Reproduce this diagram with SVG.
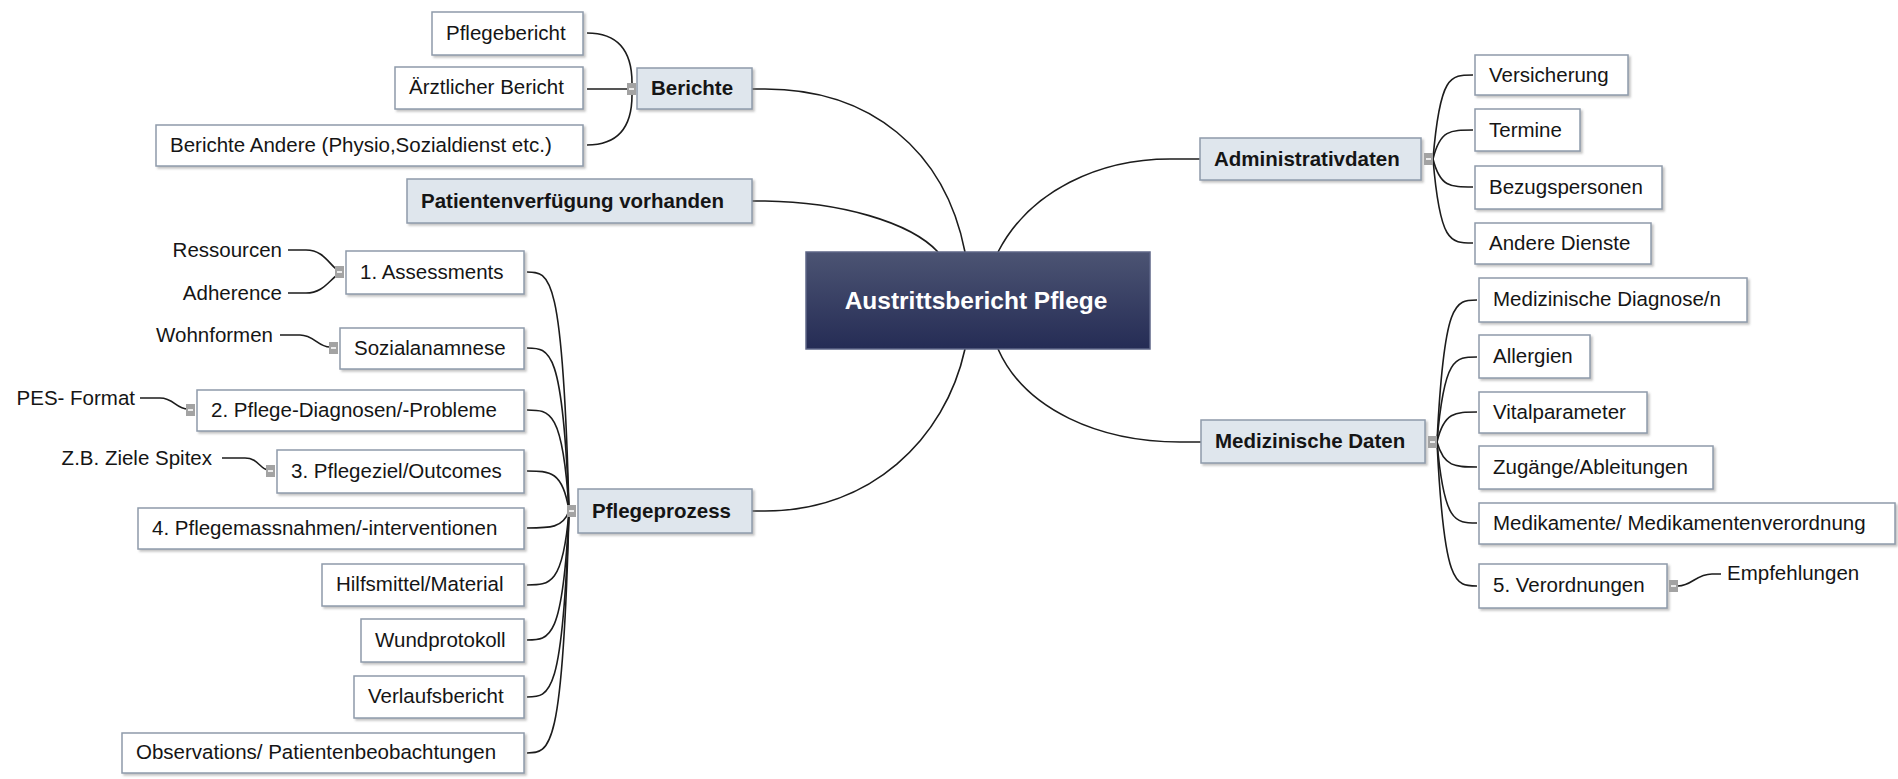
<svg xmlns="http://www.w3.org/2000/svg" width="1898" height="779" viewBox="0 0 1898 779">
<defs>
<linearGradient id="cg" x1="0" y1="0" x2="0" y2="1">
<stop offset="0" stop-color="#4c5473"/>
<stop offset="1" stop-color="#252c55"/>
</linearGradient>
<filter id="sh" x="-5%" y="-20%" width="110%" height="150%">
<feDropShadow dx="2" dy="2" stdDeviation="1" flood-color="#888" flood-opacity="0.5"/>
</filter>
</defs>
<style>
.box{fill:#fff;stroke:#8e9bab;stroke-width:1.5;filter:url(#sh)}
.main{fill:#dfe6ed;stroke:#8e9bab;stroke-width:1.5;filter:url(#sh)}
.t{font-family:"Liberation Sans",Arial,sans-serif;font-size:20.5px;fill:#151515}
.tb{font-family:"Liberation Sans",Arial,sans-serif;font-size:20.5px;font-weight:bold;fill:#151515}
.tc{font-family:"Liberation Sans",Arial,sans-serif;font-size:24.5px;font-weight:bold;fill:#fff}
.c{fill:none;stroke:#1c1c1c;stroke-width:1.6}
.hub{fill:#a3a3a3}
.hl{stroke:#ececec;stroke-width:2}
</style>
<rect width="1898" height="779" fill="#fff"/>
<g id="connectors">
<path class="c" d="M752,89 L765,89 C870,89 945,150 965,252"/>
<path class="c" d="M752,201 L765,201 C840,202 910,222 938,252"/>
<path class="c" d="M752,511 L765,511 C870,511 945,440 965,349"/>
<path class="c" d="M998,252 C1030,190 1100,159 1170,159 L1200,159"/>
<path class="c" d="M998,349 C1025,410 1100,442 1180,442 L1201,442"/>
<path class="c" d="M632,83 C632,50 618,33 587,33"/>
<path class="c" d="M627,89 L587,89"/>
<path class="c" d="M632,95 C632,128 618,145 587,145"/>
<path class="c" d="M569,511 C563,272 550,272 527,272"/>
<path class="c" d="M569,511 C563,348 550,348 527,348"/>
<path class="c" d="M569,511 C563,410 550,410 527,410"/>
<path class="c" d="M569,511 C563,471 550,471 527,471"/>
<path class="c" d="M569,511 C563,528 550,528 527,528"/>
<path class="c" d="M569,511 C563,585 550,585 527,585"/>
<path class="c" d="M569,511 C563,640 550,640 527,640"/>
<path class="c" d="M569,511 C563,697 550,697 527,697"/>
<path class="c" d="M569,511 C563,753 550,753 527,753"/>
<path class="c" d="M1433,159 C1440,75 1450,75 1473,75"/>
<path class="c" d="M1433,159 C1440,130 1450,130 1473,130"/>
<path class="c" d="M1433,159 C1440,187 1450,187 1473,187"/>
<path class="c" d="M1433,159 C1440,243 1450,243 1473,243"/>
<path class="c" d="M1437,442 C1444,300 1455,300 1477,300"/>
<path class="c" d="M1437,442 C1444,357 1455,357 1477,357"/>
<path class="c" d="M1437,442 C1444,412 1455,412 1477,412"/>
<path class="c" d="M1437,442 C1444,467 1455,467 1477,467"/>
<path class="c" d="M1437,442 C1444,523 1455,523 1477,523"/>
<path class="c" d="M1437,442 C1444,586 1455,586 1477,586"/>
<path class="c" d="M288,250 L306,250 C322,250 328,262 336,269"/>
<path class="c" d="M288,293 L306,293 C322,293 328,282 336,276"/>
<path class="c" d="M280,335 L300,335 C314,335 318,347 330,347"/>
<path class="c" d="M140,398 L160,398 C174,398 176,409 188,409"/>
<path class="c" d="M222,458 L245,458 C258,458 260,469 268,470"/>
<path class="c" d="M1678,586 C1692,586 1696,574 1712,574 L1721,574"/>
</g>
<g id="n-center">
<rect x="806" y="252" width="344" height="97" fill="url(#cg)" stroke="#5d6587" stroke-width="1.5"/>
<text class="tc" x="976" y="309" text-anchor="middle">Austrittsbericht Pflege</text>
</g>
<g id="n-berichte">
<rect class="main" x="637" y="68" width="115" height="41"/>
<text class="tb" x="651" y="95">Berichte</text>
<rect class="hub" x="627" y="83" width="9" height="12"/><line class="hl" x1="629" y1="89" x2="634" y2="89"/>
</g>
<g id="n-pflegebericht"><rect class="box" x="432" y="12" width="151" height="43"/><text class="t" x="446" y="40">Pflegebericht</text></g>
<g id="n-aerztlich"><rect class="box" x="395" y="67" width="188" height="42"/><text class="t" x="409" y="94">Ärztlicher Bericht</text></g>
<g id="n-andere"><rect class="box" x="156" y="125" width="427" height="41"/><text class="t" x="170" y="152">Berichte Andere (Physio,Sozialdienst etc.)</text></g>
<g id="n-patverf"><rect class="main" x="407" y="179" width="345" height="44"/><text class="tb" x="421" y="208">Patientenverfügung vorhanden</text></g>
<g id="n-pflegeprozess">
<rect class="main" x="578" y="489" width="174" height="44"/>
<text class="tb" x="592" y="518">Pflegeprozess</text>
<rect class="hub" x="567" y="505" width="9" height="12"/><line class="hl" x1="569" y1="511" x2="574" y2="511"/>
</g>
<g id="n-assess">
<rect class="box" x="346" y="251" width="178" height="43"/><text class="t" x="360" y="279">1. Assessments</text>
<rect class="hub" x="335" y="266" width="9" height="12"/><line class="hl" x1="337" y1="272" x2="342" y2="272"/>
</g>
<g id="n-ressourcen"><text class="t" x="282" y="257" text-anchor="end">Ressourcen</text></g>
<g id="n-adherence"><text class="t" x="282" y="300" text-anchor="end">Adherence</text></g>
<g id="n-sozial">
<rect class="box" x="340" y="328" width="184" height="41"/><text class="t" x="354" y="355">Sozialanamnese</text>
<rect class="hub" x="329" y="342" width="9" height="12"/><line class="hl" x1="331" y1="348" x2="336" y2="348"/>
</g>
<g id="n-wohnformen"><text class="t" x="273" y="342" text-anchor="end">Wohnformen</text></g>
<g id="n-diag">
<rect class="box" x="197" y="390" width="327" height="41"/><text class="t" x="211" y="417">2. Pflege-Diagnosen/-Probleme</text>
<rect class="hub" x="186" y="404" width="9" height="12"/><line class="hl" x1="188" y1="410" x2="193" y2="410"/>
</g>
<g id="n-pes"><text class="t" x="135" y="405" text-anchor="end">PES- Format</text></g>
<g id="n-ziel">
<rect class="box" x="277" y="450" width="247" height="43"/><text class="t" x="291" y="478">3. Pflegeziel/Outcomes</text>
<rect class="hub" x="266" y="465" width="9" height="12"/><line class="hl" x1="268" y1="471" x2="273" y2="471"/>
</g>
<g id="n-spitex"><text class="t" x="212" y="465" text-anchor="end">Z.B. Ziele Spitex</text></g>
<g id="n-massn"><rect class="box" x="138" y="508" width="386" height="41"/><text class="t" x="152" y="535">4. Pflegemassnahmen/-interventionen</text></g>
<g id="n-hilfs"><rect class="box" x="322" y="564" width="202" height="42"/><text class="t" x="336" y="591">Hilfsmittel/Material</text></g>
<g id="n-wund"><rect class="box" x="361" y="619" width="163" height="43"/><text class="t" x="375" y="647">Wundprotokoll</text></g>
<g id="n-verlauf"><rect class="box" x="354" y="676" width="170" height="42"/><text class="t" x="368" y="703">Verlaufsbericht</text></g>
<g id="n-observ"><rect class="box" x="122" y="733" width="402" height="40"/><text class="t" x="136" y="759">Observations/ Patientenbeobachtungen</text></g>
<g id="n-admin">
<rect class="main" x="1200" y="138" width="221" height="42"/><text class="tb" x="1214" y="166">Administrativdaten</text>
<rect class="hub" x="1424" y="153" width="9" height="12"/><line class="hl" x1="1426" y1="159" x2="1431" y2="159"/>
</g>
<g id="n-vers"><rect class="box" x="1475" y="55" width="153" height="40"/><text class="t" x="1489" y="82">Versicherung</text></g>
<g id="n-termine"><rect class="box" x="1475" y="109" width="105" height="42"/><text class="t" x="1489" y="137">Termine</text></g>
<g id="n-bezug"><rect class="box" x="1475" y="166" width="187" height="43"/><text class="t" x="1489" y="194">Bezugspersonen</text></g>
<g id="n-dienste"><rect class="box" x="1475" y="223" width="176" height="41"/><text class="t" x="1489" y="250">Andere Dienste</text></g>
<g id="n-med">
<rect class="main" x="1201" y="420" width="224" height="43"/><text class="tb" x="1215" y="448">Medizinische Daten</text>
<rect class="hub" x="1428" y="436" width="9" height="12"/><line class="hl" x1="1430" y1="442" x2="1435" y2="442"/>
</g>
<g id="n-mdiag"><rect class="box" x="1479" y="278" width="268" height="44"/><text class="t" x="1493" y="306">Medizinische Diagnose/n</text></g>
<g id="n-allerg"><rect class="box" x="1479" y="335" width="111" height="43"/><text class="t" x="1493" y="363">Allergien</text></g>
<g id="n-vital"><rect class="box" x="1479" y="392" width="168" height="41"/><text class="t" x="1493" y="419">Vitalparameter</text></g>
<g id="n-zugang"><rect class="box" x="1479" y="446" width="234" height="43"/><text class="t" x="1493" y="474">Zugänge/Ableitungen</text></g>
<g id="n-medik"><rect class="box" x="1479" y="503" width="416" height="41"/><text class="t" x="1493" y="530">Medikamente/ Medikamentenverordnung</text></g>
<g id="n-verord">
<rect class="box" x="1479" y="564" width="188" height="44"/><text class="t" x="1493" y="592">5. Verordnungen</text>
<rect class="hub" x="1669" y="580" width="9" height="12"/><line class="hl" x1="1671" y1="586" x2="1676" y2="586"/>
</g>
<g id="n-empf"><text class="t" x="1727" y="580">Empfehlungen</text></g>
</svg>
